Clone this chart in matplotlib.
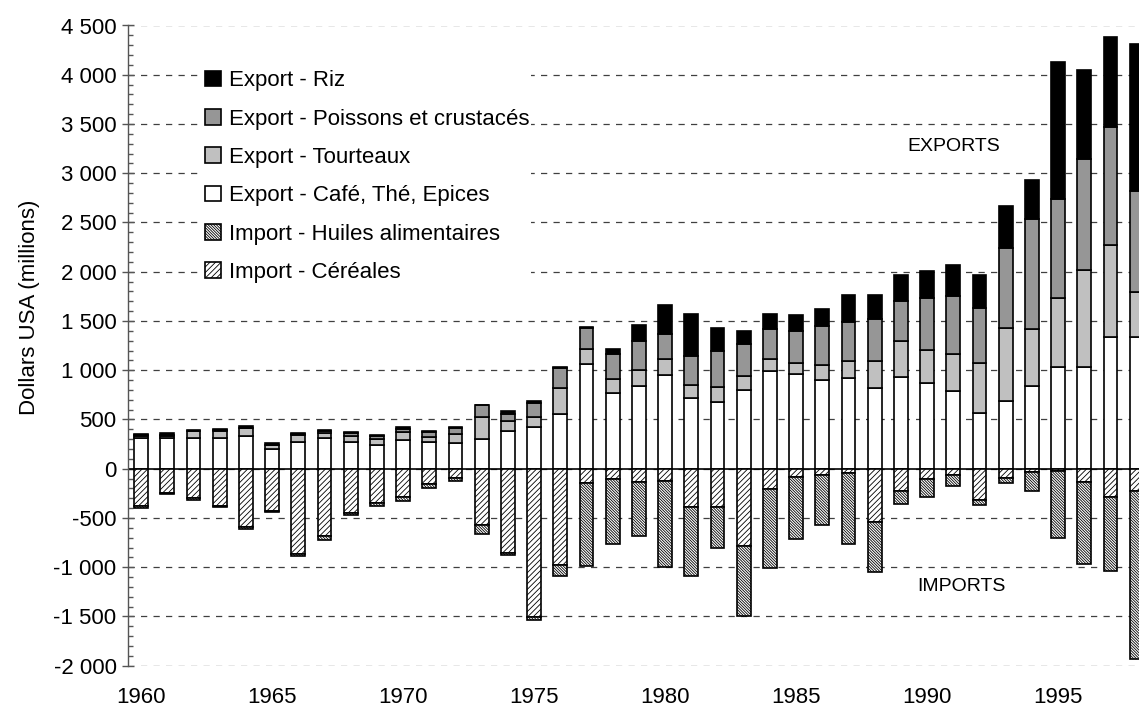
import numpy as np
import matplotlib
matplotlib.use('Agg')
import matplotlib.pyplot as plt
from matplotlib.ticker import FuncFormatter, MultipleLocator

# Data (millions USD)
years = np.arange(1960, 1999)

cafe = [308, 311, 314, 314, 331, 199, 274, 308, 267, 243, 294, 267, 260,
        298, 380, 424, 556, 1061, 773, 844, 953, 715, 675, 797, 997, 963,
        904, 921, 816, 928, 867, 793, 569, 688, 840, 1036, 1030, 1338, 1338]
tourteaux = [25, 24, 66, 68, 78, 40, 68, 50, 68, 57, 74, 54, 88,
             227, 108, 105, 264, 159, 139, 156, 159, 132, 156, 142, 115, 112,
             149, 173, 278, 369, 339, 369, 501, 745, 576, 701, 989, 931, 457]
poissons = [5, 10, 5, 10, 5, 5, 15, 20, 25, 35, 40, 47, 61,
            119, 71, 136, 203, 210, 254, 295, 258, 302, 363, 332, 305, 319,
            396, 396, 430, 406, 532, 593, 562, 810, 1118, 1006, 1121, 1202, 1026]
riz = [12, 13, 7, 7, 15, 16, 8, 14, 8, 10, 18, 17, 17,
       5, 27, 24, 5, 5, 54, 166, 292, 424, 231, 125, 153, 166,
       169, 278, 240, 268, 271, 315, 332, 423, 393, 1382, 908, 914, 1487]
cereales = [376, 244, 302, 376, 593, 427, 864, 688, 447, 346, 285, 159, 95,
            576, 854, 1509, 973, 142, 108, 132, 125, 386, 386, 786, 203, 85,
            64, 47, 536, 227, 102, 68, 315, 95, 31, 24, 136, 292, 231]
huiles = [21, 17, 17, 14, 14, 14, 24, 31, 24, 30, 44, 41, 27,
          82, 17, 24, 119, 848, 655, 553, 872, 702, 414, 712, 804, 624,
          506, 716, 508, 129, 186, 105, 58, 54, 200, 678, 830, 749, 1701]

labels = ['Export - Riz', 'Export - Poissons et crustacés', 'Export - Tourteaux',
          'Export - Café, Thé, Epices', 'Import - Huiles alimentaires',
          'Import - Céréales']

# %%
plt.rcParams['font.family'] = ['Liberation Sans', 'DejaVu Sans']
plt.rcParams['hatch.linewidth'] = 0.6

fig = plt.figure(figsize=(11.39, 7.09), dpi=100)
ax = fig.add_axes([128 / 1139, 43.3 / 709, 1021.8 / 1139, 640.2 / 709])

w = 0.52
ec = 'black'
lw = 1.2
cafe = np.array(cafe)
tourteaux = np.array(tourteaux)
poissons = np.array(poissons)
riz = np.array(riz)
cereales = -np.array(cereales)
huiles = -np.array(huiles)

b_cafe = ax.bar(years, cafe, w, color='white', edgecolor=ec, linewidth=lw, zorder=3)
b_tour = ax.bar(years, tourteaux, w, bottom=cafe, color='#c0c0c0',
                edgecolor=ec, linewidth=lw, zorder=3)
b_pois = ax.bar(years, poissons, w, bottom=cafe + tourteaux, color='#969696',
                edgecolor=ec, linewidth=lw, zorder=3)
b_riz = ax.bar(years, riz, w, bottom=cafe + tourteaux + poissons, color='black',
               edgecolor=ec, linewidth=lw, zorder=3)
b_cer = ax.bar(years, cereales, w, color='white', edgecolor=ec, linewidth=lw,
               hatch='//////', zorder=3)
b_hui = ax.bar(years, huiles, w, bottom=cereales, color='white', edgecolor=ec,
               linewidth=lw, hatch='\\' * 12, zorder=3)

# axes
ax.set_xlim(1959.5, 1998.5)
ax.set_ylim(-2000, 4500)
for s in ['top', 'right', 'bottom']:
    ax.spines[s].set_visible(False)
ax.spines['left'].set_color('#555555')
ax.spines['left'].set_linewidth(1.0)

ax.yaxis.set_major_locator(MultipleLocator(500))
ax.yaxis.set_minor_locator(MultipleLocator(100))
ax.yaxis.set_major_formatter(FuncFormatter(lambda v, p: f'{int(v):,}'.replace(',', ' ')))
ax.tick_params(axis='y', which='major', direction='inout', length=8.4,
               width=1.0, color='#555555', labelsize=16, pad=4)
ax.tick_params(axis='y', which='minor', direction='in', length=3.6,
               width=1.0, color='#555555')
ax.set_xticks(np.arange(1960, 1999, 5))
ax.tick_params(axis='x', length=0, labelsize=16, pad=15)

ax.grid(axis='y', which='major', color='#404040', linestyle=(0, (5, 5)),
        linewidth=0.9, zorder=0)
ax.set_axisbelow(True)
ax.axhline(0, color='black', linewidth=1.2, zorder=2)

fig.text(30 / 1139, 1 - 307 / 709, 'Dollars USA (millions)', rotation=90,
         ha='center', va='center', fontsize=16)

ax.text(1991.0, 3276, 'EXPORTS', ha='center', va='center', fontsize=14)
ax.text(1991.3, -1197, 'IMPORTS', ha='center', va='center', fontsize=14)

handles = [b_riz, b_pois, b_tour, b_cafe, b_hui, b_cer]
leg = ax.legend(handles, labels, loc='upper left',
                bbox_to_anchor=(203 / 1139, 1 - 68 / 709),
                bbox_transform=fig.transFigure, frameon=True, fontsize=16,
                handlelength=0.7, handleheight=0.7, handletextpad=0.35,
                labelspacing=0.78, borderpad=0.1, borderaxespad=0,
                fancybox=False, framealpha=1)
leg.get_frame().set_edgecolor('none')
leg.get_frame().set_facecolor('white')
leg.set_zorder(5)

plt.savefig('out.png', dpi=100)
plt.close()
